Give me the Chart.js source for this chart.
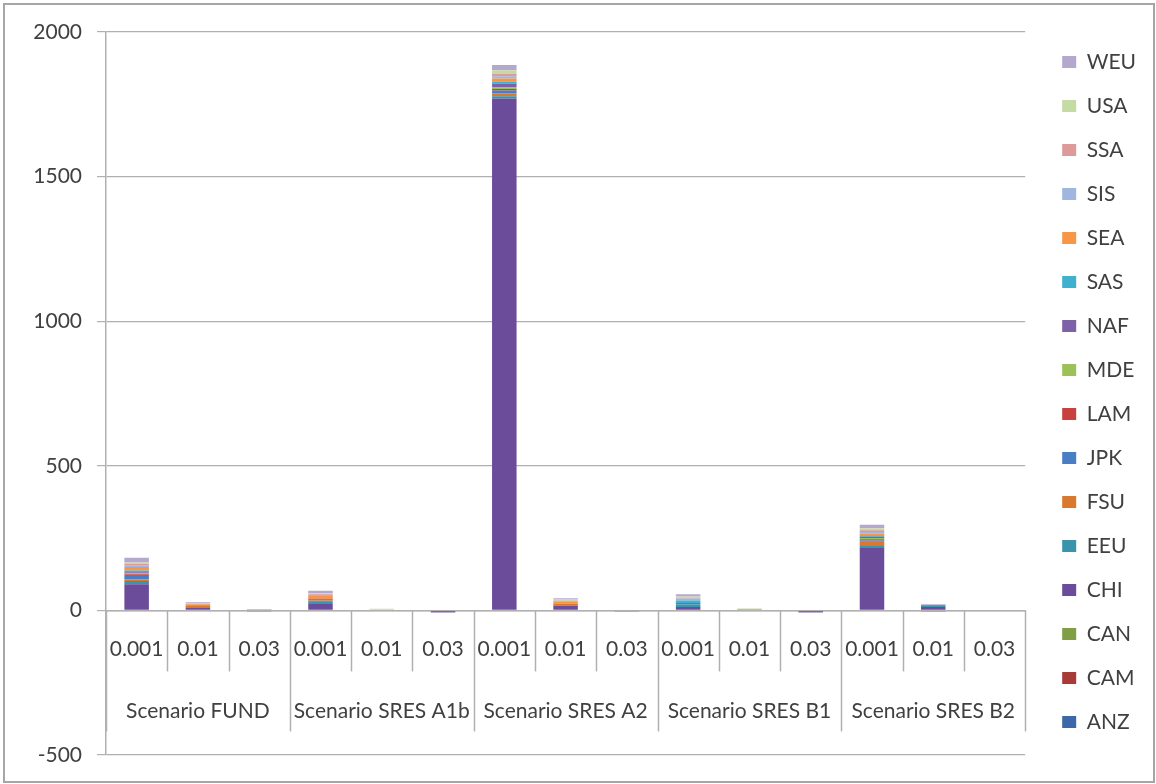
<!DOCTYPE html>
<html>
<head>
<meta charset="utf-8">
<script src="https://cdn.jsdelivr.net/npm/chart.js@4/dist/chart.umd.min.js"></script>
<style>
  html, body { margin: 0; padding: 0; background: #fff; }
  #wrap { position: relative; width: 1156px; height: 784px; }
  #frame { position: absolute; left: 3px; top: 3px; width: 1148px; height: 776px; border: 2px solid #a6a6a6; pointer-events: none; }
  canvas { display: block; }
</style>
</head>
<body>
<div id="wrap">
  <canvas id="c" width="1156" height="784"></canvas>
  <div id="frame"></div>
</div>
<script>
// ---- data ----
const subLabels = ['0.001','0.01','0.03','0.001','0.01','0.03','0.001','0.01','0.03','0.001','0.01','0.03','0.001','0.01','0.03'];
const groupLabels = ['Scenario FUND','Scenario SRES A1b','Scenario SRES A2','Scenario SRES B1','Scenario SRES B2'];
const yTicks = [-500, 0, 500, 1000, 1500, 2000];
const seriesNames = ['ANZ','CAM','CAN','CHI','EEU','FSU','JPK','LAM','MDE','NAF','SAS','SEA','SIS','SSA','USA','WEU'];

const ANZ = [0, -2, 0, 0, 0, 0, 0, 0, 0, 0, 0, 0, 0, -3, 0];
const CAM = [0, 0, 0, 0, 0, 0, 0, 0, 0, 0, 0, 0, 0, 0, 0];
const CAN = [0, 0, 0, 0, -2, 0, 0, 0, 0, 0, 0, 0, 0, 0, 0];
const CHI = [90, 10, -3, 25, 0, -5, 1770, 15, 0, 12, -2, -5, 218, 12, 0];
const EEU = [12, 2, 2, 4, 0, 0, 8, 3, 0, 8, 0, 0, 5, 3, 0];
const FSU = [5, 3, 0, 5, 0, 0, 10, 6, -2, 0, 2, 0, 14, 0, 2];
const JPK = [15, 2, 0, 3, 0, 0, 10, 0, 0, 6, 0, 0, 5, 0, 0];
const LAM = [3, 0, 0, 3, 0, 0, 5, 0, 0, 0, 0, 0, 4, 0, 0];
const MDE = [3, 0, 0, 0, 2, 0, 5, 0, 0, 0, 0, 0, 4, 0, 0];
const NAF = [4, 0, 0, 0, 0, -2, 13, 0, 0, 0, 0, -2, 5, 3, 0];
const SAS = [6, 0, 2, 0, 0, 0, 8, 0, 0, 8, 0, 0, 5, 0, 0];
const SEA = [12, 4, 0, 10, 0, 2, 10, 6, -3, 0, 3, 0, 6, 0, -2];
const SIS = [6, 0, 0, 3, 0, 0, 8, 0, 0, 7, 0, 0, 5, 0, 0];
const SSA = [5, 2, 0, 3, 0, 0, 8, 3, 0, 3, 0, 0, 6, 0, 0];
const USA = [5, 2, 0, 3, 4, 0, 13, 5, 2, 4, 2, 0, 7, 0, 0];
const WEU = [16, 3, 0, 9, 0, 0, 18, 4, 0, 8, 0, 0, 12, 3, 0];

const seriesValues = [ANZ, CAM, CAN, CHI, EEU, FSU, JPK, LAM, MDE, NAF, SAS, SEA, SIS, SSA, USA, WEU];
const seriesColors = ['#3A68A8','#A83A37','#7F9E45','#6B4C9A','#3A94AC','#D9782F','#4A7EC4','#C8413E',
                      '#9BC158','#7E62A8','#3FB0CE','#F79646','#A0B6DE','#DC9A9A','#C6DAA4','#B5A8CF'];

// ---- styles ----
const FONT = 'Lato, "Open Sans", sans-serif';
const TXT = '#404040';
const LINE = '#b0b0b0';

const groupAxisPlugin = {
  id: 'groupAxis',
  afterDraw(chart) {
    const xs = chart.scales.x, ys = chart.scales.y;
    const ctx = chart.ctx;
    const n = subLabels.length;
    const w = (xs.right - xs.left) / n;
    const y0 = ys.getPixelForValue(0);
    ctx.save();
    ctx.strokeStyle = LINE;
    ctx.lineWidth = 1.5;
    for (let i = 0; i <= n; i++) {
      const x = Math.round(xs.left + i * w) + 0.5;
      const len = (i % 3 === 0) ? 121 : 61;
      ctx.beginPath();
      ctx.moveTo(x, y0);
      ctx.lineTo(x, y0 + len);
      ctx.stroke();
    }
    ctx.fillStyle = TXT;
    ctx.font = '21px ' + FONT;
    ctx.textAlign = 'center';
    ctx.textBaseline = 'middle';
    groupLabels.forEach((g, k) => {
      ctx.fillText(g, xs.left + (k * 3 + 1.5) * w, y0 + 101);
    });
    ctx.restore();
  }
};

new Chart(document.getElementById('c'), {
  type: 'bar',
  data: {
    labels: subLabels,
    datasets: seriesNames.map((name, i) => ({
      label: name,
      data: seriesValues[i],
      backgroundColor: seriesColors[i],
      borderWidth: 0,
      barPercentage: 0.4,
      categoryPercentage: 1.0
    }))
  },
  options: {
    responsive: false,
    animation: false,
    layout: { padding: { left: 6, right: 10, top: 0, bottom: 0 } },
    scales: {
      x: {
        stacked: true,
        position: { y: 0 },
        offset: true,
        grid: { display: false, drawTicks: false },
        border: { display: true, color: LINE, width: 1.5 },
        ticks: { color: TXT, font: { family: FONT, size: 21 }, padding: 26, autoSkip: false, maxRotation: 0, minRotation: 0 }
      },
      y: {
        stacked: true,
        min: -500,
        max: 2000,
        afterBuildTicks(s) { s.ticks = yTicks.map(v => ({ value: v })); },
        afterFit(s) { s.width = 100; },
        grid: { color: LINE, lineWidth: 1.2, tickLength: 9, tickColor: LINE, drawTicks: true },
        border: { display: true, color: LINE, width: 1.5 },
        ticks: { color: TXT, font: { family: FONT, size: 21 }, padding: 15, callback: v => String(v) }
      },
      y2: {
        position: 'right',
        display: true,
        grid: { display: false, drawTicks: false },
        border: { display: false },
        ticks: { display: false },
        afterFit(s) { s.width = 14; }
      }
    },
    plugins: {
      legend: {
        position: 'right',
        reverse: true,
        labels: { color: TXT, font: { family: FONT, size: 21 }, boxWidth: 14, boxHeight: 12, padding: 23 }
      },
      title: { display: true, text: ' ', fullSize: false, position: 'top', font: { size: 10, lineHeight: 1 }, padding: { top: 22, bottom: 0 } },
      subtitle: { display: true, text: ' ', fullSize: false, position: 'bottom', font: { size: 10, lineHeight: 1 }, padding: { top: 19, bottom: 0 } },
      tooltip: { enabled: false }
    }
  },
  plugins: [groupAxisPlugin]
});
</script>
</body>
</html>
